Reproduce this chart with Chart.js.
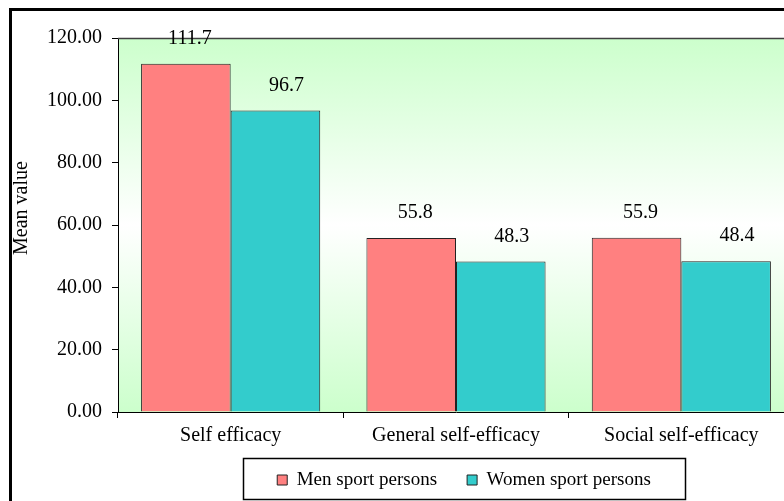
<!DOCTYPE html>
<html>
<head>
<meta charset="utf-8">
<script src="https://cdn.jsdelivr.net/npm/chart.js@4"></script>
<style>
  html, body { margin: 0; padding: 0; width: 784px; height: 501px; overflow: hidden; background: #fff; }
  #frame { position: absolute; left: 9px; top: 8px; width: 900px; height: 600px; border: 3px solid #000; box-sizing: border-box; }
  #c { position: absolute; left: 0; top: 0; }
</style>
</head>
<body>
<div id="frame"></div>
<canvas id="c" width="810" height="517"></canvas>
<script>
const categories = ["Self efficacy", "General self-efficacy", "Social self-efficacy"];
const seriesNames = ["Men sport persons", "Women sport persons"];
const menValues = [111.7, 55.8, 55.9];
const womenValues = [96.7, 48.3, 48.4];
const yTicks = [0, 20, 40, 60, 80, 100, 120];
const yTitle = "Mean value";

const FONT = "'Liberation Serif', 'Times New Roman', serif";
Chart.defaults.font.family = FONT;
Chart.defaults.color = "#000";

const labelShiftX = [4, 11];

const decor = {
  id: "decor",
  beforeDraw(chart) {
    const { ctx, chartArea: a } = chart;
    const g = ctx.createLinearGradient(0, a.top, 0, a.bottom);
    g.addColorStop(0, "#CCFFCC");
    g.addColorStop(0.5, "#FFFFFF");
    g.addColorStop(1, "#CCFFCC");
    ctx.save();
    ctx.fillStyle = g;
    ctx.fillRect(a.left, a.top, a.right - a.left, a.bottom - a.top);
    ctx.restore();
  },
  afterLayout(chart) {
    const lg = chart.legend;
    if (lg) {
      lg.left = 243; lg.right = 685;
      const p = lg.options.labels.padding;
      const h = lg.height;
      lg.top = 480 - p - 9.5;
      lg.bottom = lg.top + h;
    }
  },
  afterDatasetsDraw(chart) {
    const { ctx, chartArea: a } = chart;
    ctx.save();
    ctx.strokeStyle = "#404040";
    ctx.lineWidth = 1.5;
    ctx.beginPath();
    ctx.moveTo(a.left, a.top + 0.5);
    ctx.lineTo(a.right, a.top + 0.5);
    ctx.lineTo(a.right, a.bottom);
    ctx.stroke();
    ctx.fillStyle = "#000";
    ctx.font = "20px " + FONT;
    ctx.textAlign = "center";
    ctx.textBaseline = "middle";
    chart.data.datasets.forEach((ds, i) => {
      const meta = chart.getDatasetMeta(i);
      meta.data.forEach((bar, j) => {
        ctx.fillText(ds.data[j].toFixed(1), bar.x + labelShiftX[i], bar.y - 25);
      });
    });
    ctx.restore();
  },
  afterDraw(chart) {
    const ctx = chart.ctx;
    ctx.save();
    ctx.strokeStyle = "#000";
    ctx.lineWidth = 1.5;
    ctx.strokeRect(243.5, 458.5, 442, 41);
    // y axis title
    ctx.translate(22, 208);
    ctx.rotate(-Math.PI / 2);
    ctx.fillStyle = "#000";
    ctx.font = "20px " + FONT;
    ctx.textAlign = "center";
    ctx.textBaseline = "middle";
    ctx.fillText(yTitle, 0, 0);
    ctx.restore();
  }
};

new Chart(document.getElementById("c"), {
  type: "bar",
  data: {
    labels: categories,
    datasets: [
      { label: seriesNames[0], data: menValues, backgroundColor: "#FF8080", borderColor: "#222", borderWidth: 1 },
      { label: seriesNames[1], data: womenValues, backgroundColor: "#33CCCC", borderColor: "#222", borderWidth: 1 }
    ]
  },
  options: {
    responsive: false,
    animation: false,
    devicePixelRatio: 1,
    layout: { padding: { left: 0, right: 16, top: 38, bottom: 0 } },
    datasets: { bar: { categoryPercentage: 0.795, barPercentage: 1.0 } },
    plugins: {
      tooltip: { enabled: false },
      legend: {
        position: "bottom",
        labels: {
          font: { size: 19, family: FONT },
          color: "#000",
          boxWidth: 10,
          boxHeight: 10,
          padding: 30
        }
      }
    },
    scales: {
      x: {
        grid: { display: true, drawOnChartArea: false, offset: true, color: "#000", tickLength: 6, tickColor: "#000" },
        border: { display: true, color: "#000", width: 1 },
        ticks: { font: { size: 20 }, color: "#000", padding: 6, maxRotation: 0 },
        afterFit(scale) { scale.height = 46; }
      },
      y: {
        min: 0, max: 120,
        afterBuildTicks(scale) { scale.ticks = yTicks.map(v => ({ value: v })); },
        grid: { display: true, drawOnChartArea: false, color: "#000", tickLength: 6, tickColor: "#000" },
        border: { display: true, color: "#000", width: 1 },
        ticks: { font: { size: 20 }, color: "#000", padding: 10, callback: v => Number(v).toFixed(2) },
        title: { display: false, text: yTitle },
        afterFit(scale) { scale.width = 118; }
      }
    }
  },
  plugins: [decor]
});
</script>
</body>
</html>
